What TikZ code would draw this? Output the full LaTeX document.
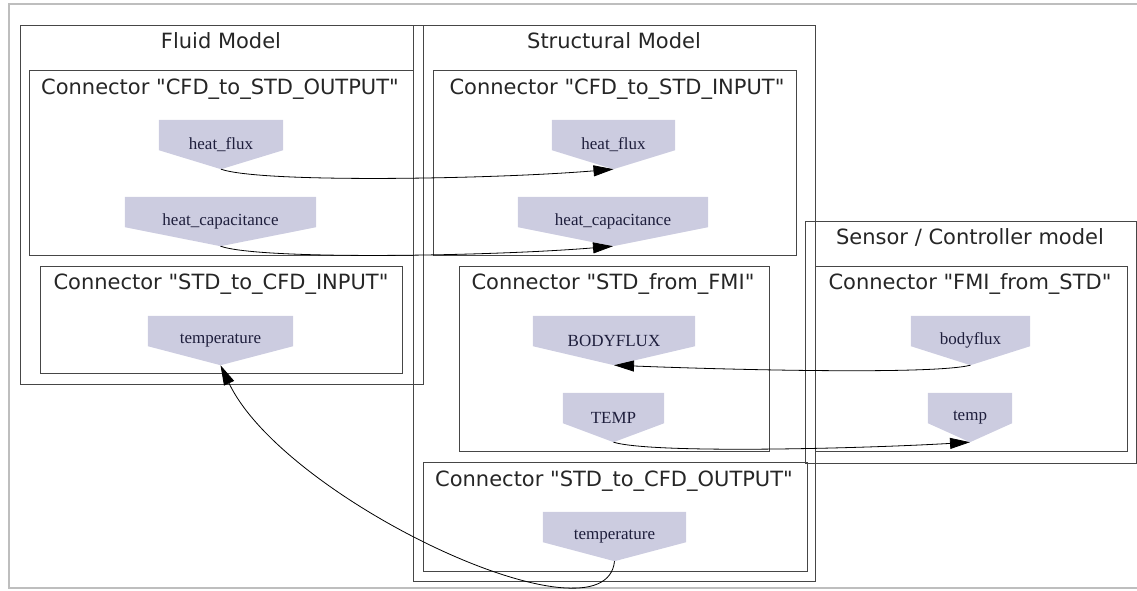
\documentclass[tikz,border=0pt]{standalone}
\usepackage{fontspec}
\setmainfont{Liberation Serif}
\newfontfamily\lblfont[Ligatures=TeXOff]{DejaVu Sans}
\usetikzlibrary{arrows.meta,backgrounds}
\definecolor{nodefill}{RGB}{204,204,224}
\definecolor{nodetext}{RGB}{30,30,60}
\definecolor{boxline}{RGB}{70,70,70}
\definecolor{framegray}{RGB}{190,190,190}
\tikzset{
  cluster/.style={draw=boxline, line width=0.9pt},
  clabel/.style={font=\lblfont\fontsize{21}{25}\selectfont, text=black!85, anchor=base, inner sep=0pt},
  port/.style={minimum width=#1, minimum height=49pt, inner sep=0pt, font=\fontsize{17}{20}\selectfont, text=nodetext},
  arr/.style={draw=black, line width=0.8pt, -{Triangle[length=20pt,width=11pt]}},
}
\newcommand\housefill[1]{\fill[nodefill] (#1.north west) -- (#1.north east) -- ([yshift=19pt]#1.south east) -- (#1.south) -- ([yshift=19pt]#1.south west) -- cycle;}
\begin{document}
\begin{tikzpicture}[x=1pt,y=-1pt]
\useasboundingbox (0,0) rectangle (1137,590);
% outer frame
\draw[framegray, line width=1.5pt] (1137,4) -- (9,4) -- (9,588) -- (1137,588);
% clusters
\draw[cluster] (20,25) rectangle (423,384);
\draw[cluster] (413,25) rectangle (815,581);
\draw[cluster] (805,221) rectangle (1136,463);
\draw[cluster] (29,70) rectangle (413,255);
\draw[cluster] (433,70) rectangle (796,255);
\draw[cluster] (40,266) rectangle (402,373);
\draw[cluster] (459,266) rectangle (769,451);
\draw[cluster] (423,462) rectangle (807,571);
\draw[cluster] (815,266) rectangle (1127,451);
% cluster labels
\node[clabel] (lfluid) at (221,48) {Fluid Model};
\node[clabel] (lstruct) at (614,48) {Structural Model};
\node[clabel] (lsensor) at (970,244) {Sensor / Controller model};
\node[clabel] (lc1) at (220,94) {Connector "CFD\_to\_STD\_OUTPUT"};
\node[clabel] (lc2) at (617,94) {Connector "CFD\_to\_STD\_INPUT"};
\node[clabel] (lc3) at (221,289) {Connector "STD\_to\_CFD\_INPUT"};
\node[clabel] (lc4) at (613,289) {Connector "STD\_from\_FMI"};
\node[clabel] (lc5) at (614,486) {Connector "STD\_to\_CFD\_OUTPUT"};
\node[clabel] (lc6) at (970,289) {Connector "FMI\_from\_STD"};
% ports
\node[port=124pt] (hf1) at (221,144.5) {heat\_flux};
\node[port=191pt] (hc1) at (220.5,221.5) {heat\_capacitance};
\node[port=123pt] (hf2) at (613.5,144.5) {heat\_flux};
\node[port=190pt] (hc2) at (613,221.5) {heat\_capacitance};
\node[port=145pt] (tin) at (220.5,340.5) {temperature};
\node[port=162pt] (BF) at (614,340.5) {BODYFLUX};
\node[port=101pt] (TEMP) at (613.5,417.5) {TEMP};
\node[port=143pt] (tout) at (614.5,536.5) {temperature};
\node[port=119pt] (bf) at (970.5,340.5) {bodyflux};
\node[port=84pt] (temp) at (970,417.5) {temp};
\begin{scope}[on background layer]
\housefill{hf1}\housefill{hc1}\housefill{hf2}\housefill{hc2}\housefill{tin}
\housefill{BF}\housefill{TEMP}\housefill{tout}\housefill{bf}\housefill{temp}
\end{scope}
% edges
\draw[arr] (hf1.south) .. controls +(40,14) and +(-120,10) .. (hf2.south);
\draw[arr] (hc1.south) .. controls +(40,14) and +(-120,10) .. (hc2.south);
\draw[arr] (bf.south) .. controls +(-40,10) and +(100,4) .. (BF.south);
\draw[arr] (TEMP.south) .. controls +(40,12) and +(-100,6) .. (temp.south);
\draw[arr] (tout.south) .. controls +(-9,89) and +(64,135) .. (tin.south);
\end{tikzpicture}
\end{document}
